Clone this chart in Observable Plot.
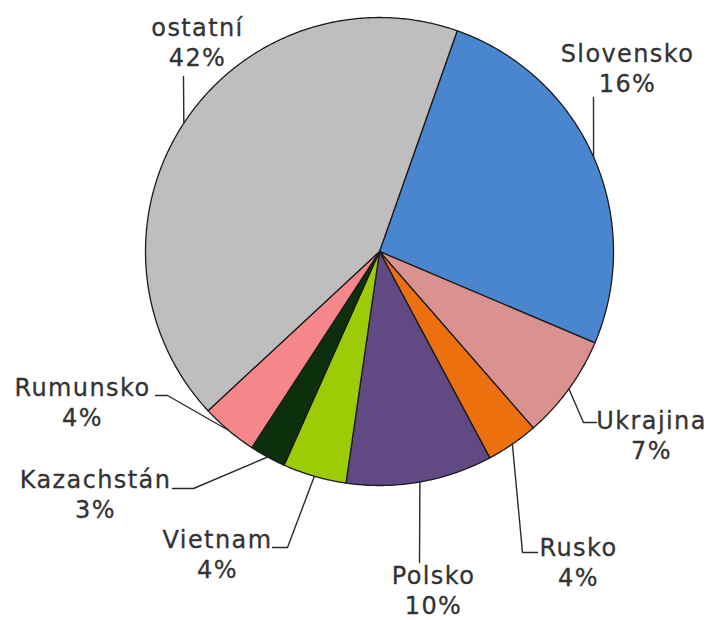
<!DOCTYPE html>
<html>
<head>
<meta charset="utf-8">
<script src="https://cdn.jsdelivr.net/npm/d3@7"></script>
<script src="https://cdn.jsdelivr.net/npm/@observablehq/plot@0.6"></script>
<style>
  html, body { margin: 0; padding: 0; background: #fff; }
</style>
</head>
<body>
<div id="chart"></div>
<script>
// ---- data ----
const countries = ["Slovensko", "Ukrajina", "Rusko", "Polsko", "Vietnam", "Kazachstán", "Rumunsko", "ostatní"];
// slice sizes as drawn (share of the full circle, %)
const shares = [26.0, 7.2, 3.6, 10.1, 4.4, 2.5, 3.9, 42.3];
// percentage labels as printed in the chart
const labelPercents = ["16%", "7%", "4%", "10%", "4%", "3%", "4%", "42%"];
const sliceColors = ["#4A86D0", "#D99290", "#EC700E", "#614A84", "#9DCB05", "#0C300C", "#F5868A", "#BEBEBE"];

// ---- layout (pixels) ----
const W = 708, H = 620;
const cx = 379, cy = 251, R = 234;
const startAngle = 19.4; // degrees clockwise from 12 o'clock
const labelLayout = {
  "Slovensko":  {text: [627, 91],  elbow: [[593, 97]]},
  "Ukrajina":   {text: [651, 458], elbow: [[583, 422], [596, 422]]},
  "Rusko":      {text: [578, 585], elbow: [[522, 552], [537, 552]]},
  "Polsko":     {text: [433, 613], elbow: [[419, 562]]},
  "Vietnam":    {text: [217, 577], elbow: [[287, 547], [272, 547]]},
  "Kazachstán": {text: [95, 517],  elbow: [[193, 488], [172, 488]]},
  "Rumunsko":   {text: [82, 425],  elbow: [[167, 395], [155, 395]]},
  "ostatní":    {text: [197, 65],  elbow: [[183, 76]]}
};
const toUnit = ([px, py]) => [(px - cx) / R, (cy - py) / R];

// ---- build geometry in unit coordinates ----
const pie = d3.pie().sort(null).value(d => d)
  .startAngle(startAngle * Math.PI / 180)
  .endAngle((startAngle + 360) * Math.PI / 180)(shares);
const polar = a => [Math.sin(a), Math.cos(a)];

const slicePts = [];
const leaderPts = [];
const labels = [];
pie.forEach((p, i) => {
  const name = countries[i];
  const steps = Math.max(2, Math.ceil((p.endAngle - p.startAngle) / (Math.PI / 360)));
  slicePts.push({name, color: sliceColors[i], x: 0, y: 0});
  for (let k = 0; k <= steps; k++) {
    const a = p.startAngle + (p.endAngle - p.startAngle) * k / steps;
    const [x, y] = polar(a);
    slicePts.push({name, color: sliceColors[i], x, y});
  }
  const mid = (p.startAngle + p.endAngle) / 2;
  const [mx, my] = polar(mid);
  const lay = labelLayout[name];
  leaderPts.push({name, x: mx, y: my});
  lay.elbow.forEach(pt => { const [x, y] = toUnit(pt); leaderPts.push({name, x, y}); });
  const [tx, ty] = toUnit(lay.text);
  labels.push({name, x: tx, y: ty, text: name + "\n" + labelPercents[i]});
});

const chart = Plot.plot({
  width: W,
  height: H,
  margin: 0,
  style: "font-family: 'DejaVu Sans', sans-serif; letter-spacing: 1.4px; background: #fff;",
  x: {domain: [-1, 1], range: [cx - R, cx + R], axis: null},
  y: {domain: [-1, 1], range: [cy + R, cy - R], axis: null},
  color: {type: "identity"},
  marks: [
    Plot.line(slicePts, {x: "x", y: "y", z: "name", fill: "color", stroke: "#1b1b1b", strokeWidth: 1.3, curve: "linear-closed", strokeLinejoin: "round"}),
    Plot.line(leaderPts, {x: "x", y: "y", z: "name", stroke: "#2b2b2b", strokeWidth: 1.4}),
    Plot.text(labels, {x: "x", y: "y", text: "text", fontSize: 24, lineHeight: 1.25, lineAnchor: "bottom", textAnchor: "middle", fill: "#333333", stroke: "#333333", strokeWidth: 0.3})
  ]
});
document.getElementById("chart").appendChild(chart);
</script>
</body>
</html>
